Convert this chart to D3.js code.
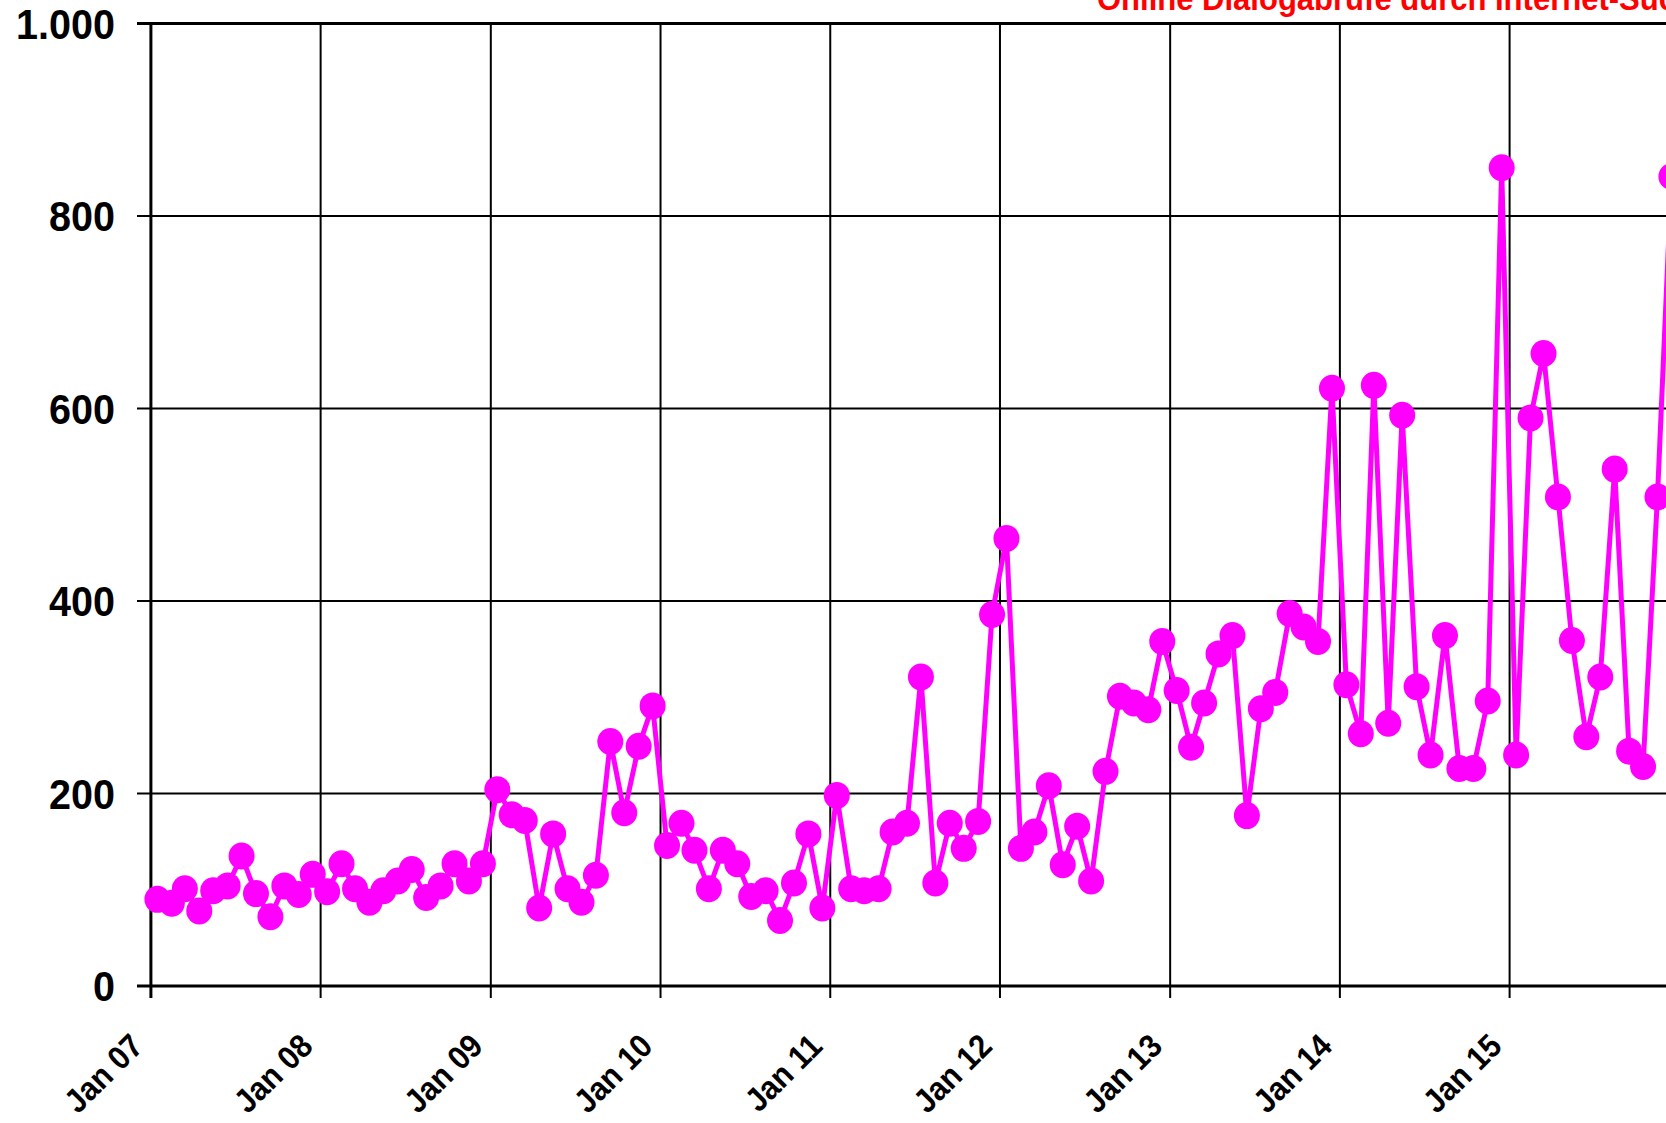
<!DOCTYPE html>
<html>
<head>
<meta charset="utf-8">
<script src="https://cdn.jsdelivr.net/npm/d3@7"></script>
<style>
  html, body { margin: 0; padding: 0; background: #ffffff; overflow: hidden; }
  svg { display: block; font-family: "Liberation Sans", Arial, sans-serif; font-weight: bold; }
</style>
</head>
<body>
<svg id="chart" width="1666" height="1123"></svg>
<script>
// ---- data (monthly values, Jan 2007 .. Dec 2015) ----
const title = "Online Dialogabrufe durch Internet-Suchmaschinen";
const firstMonth = "2007-01";
const values2007 = [90, 86, 101, 78, 99, 104, 135, 96, 72, 104, 95, 116];
const values2008 = [98, 127, 101, 87, 99, 109, 121, 92, 104, 127, 109, 127];
const values2009 = [204, 178, 172, 81, 158, 101, 87, 115, 254, 180, 249, 291];
const values2010 = [146, 169, 141, 101, 141, 127, 93, 99, 68, 107, 158, 81];
const values2011 = [198, 101, 99, 101, 160, 169, 321, 107, 169, 143, 171, 386];
const values2012 = [465, 143, 160, 208, 126, 166, 109, 223, 301, 294, 287, 358];
const values2013 = [307, 248, 294, 345, 364, 177, 288, 305, 387, 373, 358, 621];
const values2014 = [313, 262, 624, 273, 593, 311, 240, 364, 226, 226, 296, 850];
const values2015 = [240, 590, 657, 508, 359, 259, 321, 537, 244, 228, 508, 841];
const xTickLabels = ["Jan 07", "Jan 08", "Jan 09", "Jan 10", "Jan 11", "Jan 12", "Jan 13", "Jan 14", "Jan 15"];
const yTicks = [0, 200, 400, 600, 800, 1000];

const allValues = [].concat(values2007, values2008, values2009, values2010, values2011,
                            values2012, values2013, values2014, values2015);
const parseMonth = d3.timeParse("%Y-%m");
const start = parseMonth(firstMonth);
const data = allValues.map((v, i) => ({
  date: d3.timeDay.offset(d3.timeMonth.offset(start, i), 14),
  value: v
}));
const tickDates = xTickLabels.map((lab, i) => d3.timeYear.offset(start, i));

// ---- layout ----
const svg = d3.select("#chart");
const plotLeft = 151, plotTop = 23.4, plotBottom = 986;

const x = d3.scaleTime()
  .domain([tickDates[0], tickDates[tickDates.length - 1]])
  .range([150.9, 1509.6]);
const y = d3.scaleLinear().domain([0, 1000]).range([plotBottom, plotTop]);

const de = d3.formatLocale({ decimal: ",", thousands: ".", grouping: [3], currency: ["", " €"] });
const fmt = de.format(",d");

svg.append("rect").attr("width", 1666).attr("height", 1123).attr("fill", "#fff");

// horizontal grid lines
svg.append("g").selectAll("line").data(yTicks).join("line")
  .attr("x1", plotLeft - 14).attr("x2", 1666)
  .attr("y1", d => y(d)).attr("y2", d => y(d))
  .attr("stroke", "#000")
  .attr("stroke-width", d => (d === 0 || d === 1000) ? 3 : 2);

// vertical grid lines
svg.append("g").selectAll("line").data(tickDates).join("line")
  .attr("x1", d => x(d)).attr("x2", d => x(d))
  .attr("y1", plotTop).attr("y2", plotBottom + 12)
  .attr("stroke", "#000")
  .attr("stroke-width", (d, i) => i === 0 ? 3 : 2);

// y labels
svg.append("g").selectAll("text").data(yTicks).join("text")
  .attr("transform", d => `translate(115,${y(d)}) scale(0.92,1)`)
  .attr("dy", "0.36em")
  .attr("text-anchor", "end")
  .attr("font-size", 43)
  .attr("fill", "#000")
  .text(d => fmt(d));

// x labels
svg.append("g").selectAll("text").data(tickDates).join("text")
  .attr("transform", d => `translate(${x(d) - 6},${1048}) rotate(-45) scale(0.92,1)`)
  .attr("text-anchor", "end")
  .attr("font-size", 33)
  .attr("fill", "#000")
  .text((d, i) => xTickLabels[i]);

// series
const line = d3.line().x(d => x(d.date)).y(d => y(d.value));
svg.append("path").datum(data)
  .attr("d", line)
  .attr("fill", "none")
  .attr("stroke", "#FF00FF")
  .attr("stroke-width", 5)
  .attr("stroke-linejoin", "round");

svg.append("g").selectAll("ellipse").data(data).join("ellipse")
  .attr("cx", d => x(d.date)).attr("cy", d => y(d.value))
  .attr("rx", 13).attr("ry", 13.5)
  .attr("fill", "#FF00FF");

// title (partially outside the viewport, as in the reference)
svg.append("text")
  .attr("transform", "translate(1097,9.5) scale(0.94,1)")
  .attr("font-size", 33)
  .attr("fill", "#FF0000")
  .text(title);
</script>
</body>
</html>
